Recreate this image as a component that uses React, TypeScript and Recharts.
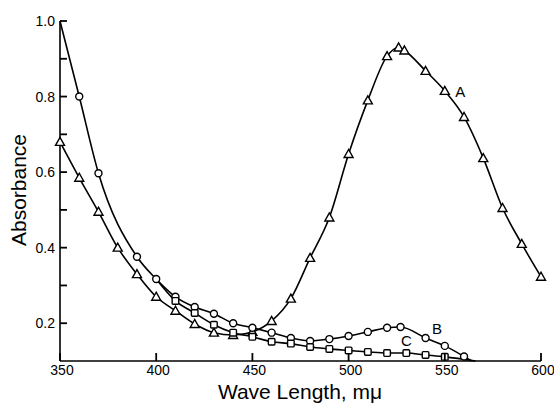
import React from 'react';
import { LineChart, Line, XAxis, YAxis, ReferenceDot, Label } from 'recharts';

// curve A (triangles)
const wlA = [350, 360, 370, 380, 390, 400, 410, 420, 430, 440, 450, 460, 470, 480, 490, 500, 510, 520, 526, 529, 540, 550, 560, 570, 580, 590, 600];
const absA = [0.68, 0.585, 0.495, 0.4, 0.33, 0.27, 0.233, 0.198, 0.175, 0.169, 0.177, 0.206, 0.265, 0.373, 0.48, 0.648, 0.79, 0.907, 0.93, 0.922, 0.868, 0.815, 0.746, 0.637, 0.505, 0.41, 0.323];

// curve B (circles)
const wlB = [350, 360, 370, 390, 400, 410, 420, 430, 440, 450, 460, 470, 480, 490, 500, 510, 520, 527, 540, 550, 560, 564];
const absB = [1.0, 0.8, 0.597, 0.376, 0.317, 0.27, 0.243, 0.225, 0.2, 0.188, 0.175, 0.161, 0.153, 0.158, 0.166, 0.177, 0.188, 0.19, 0.161, 0.14, 0.112, 0.1];
const bareB = [350, 564];

// curve C (squares)
const wlC = [400, 410, 420, 430, 440, 450, 460, 470, 480, 490, 500, 510, 520, 530, 540, 550, 566];
const absC = [0.317, 0.259, 0.227, 0.196, 0.175, 0.164, 0.151, 0.146, 0.137, 0.132, 0.128, 0.124, 0.121, 0.121, 0.116, 0.111, 0.1];
const bareC = [400, 566];

const xTicks = [350, 400, 450, 500, 550, 600];
const yTicks = [0.2, 0.3, 0.4, 0.5, 0.6, 0.7, 0.8, 0.9, 1.0];
const yLabeled = [0.2, 0.4, 0.6, 0.8, 1.0];

const curveLabels = [
  { name: 'A', wl: 558, abs: 0.812 },
  { name: 'B', wl: 546, abs: 0.185 },
  { name: 'C', wl: 530, abs: 0.153 },
];

const build = (wl: number[], ab: number[], bare: number[] = []) =>
  wl.map((w, i) => ({ wl: w, abs: ab[i], bare: bare.includes(w) }));

const dataA = build(wlA, absA);
const dataB = build(wlB, absB, bareB);
const dataC = build(wlC, absC, bareC);

const FONT = '"Liberation Sans", Arial, sans-serif';

const TriDot = (p: any) => {
  const { cx, cy, payload, index } = p;
  if (payload.bare) return <g key={index} />;
  return (
    <polygon key={index} points={`${cx},${cy - 4.5} ${cx - 4.5},${cy + 3.5} ${cx + 4.5},${cy + 3.5}`} fill="#fff" stroke="#000" strokeWidth={1.4} />
  );
};

const CircDot = (p: any) => {
  const { cx, cy, payload, index } = p;
  if (payload.bare) return <g key={index} />;
  return <circle key={index} cx={cx} cy={cy} r={3.5} fill="#fff" stroke="#000" strokeWidth={1.4} />;
};

const SqDot = (p: any) => {
  const { cx, cy, payload, index } = p;
  if (payload.bare) return <g key={index} />;
  return <rect key={index} x={cx - 3.3} y={cy - 3.3} width={6.6} height={6.6} rx={1} fill="#fff" stroke="#000" strokeWidth={1.4} />;
};

// axis ticks point inward, drawn together with the labels
const XTick = (p: any) => {
  const { x, y, payload } = p;
  return (
    <g>
      <path d={`M${x},${y} V${y - 8}`} stroke="#000" strokeWidth={1.8} fill="none" />
      <text x={x + 2} y={y + 14} textAnchor="middle" fontSize={14} fontFamily={FONT} fill="#000">
        {payload.value}
      </text>
    </g>
  );
};

const YTick = (p: any) => {
  const { x, y, payload } = p;
  const v = Math.round(payload.value * 10) / 10;
  const show = yLabeled.some((t) => Math.abs(t - v) < 1e-6);
  return (
    <g>
      <path d={`M${x + 5},${y} H${x + 12}`} stroke="#000" strokeWidth={1.8} fill="none" />
      {show && (
        <text x={x} y={y + 5} textAnchor="end" fontSize={14} fontFamily={FONT} fill="#000">
          {v.toFixed(1)}
        </text>
      )}
    </g>
  );
};

export default function App() {
  return (
    <div style={{ position: 'absolute', left: 0, top: 0, background: '#fff' }}>
      <LineChart width={554} height={407} margin={{ top: 21, right: 13, left: 10, bottom: 0 }}>
        <XAxis
          type="number"
          dataKey="wl"
          domain={[350, 600]}
          ticks={xTicks}
          height={46}
          axisLine={{ stroke: '#000', strokeWidth: 1.6 }}
          tickLine={false}
          tickSize={0}
          tickMargin={0}
          tick={(p: any) => <XTick {...p} />}
        >
          <Label
            content={() => (
              <text x={300} y={399} textAnchor="middle" fontSize={21} fontFamily={FONT} fill="#000">
                Wave Length, mμ
              </text>
            )}
          />
        </XAxis>
        <YAxis
          type="number"
          domain={[0.1, 1.0]}
          ticks={yTicks}
          width={50}
          axisLine={{ stroke: '#000', strokeWidth: 1.6 }}
          tickLine={false}
          tickSize={0}
          tickMargin={5}
          tick={(p: any) => <YTick {...p} />}
        >
          <Label
            content={() => (
              <text x={26} y={190} transform="rotate(-90 26 190)" textAnchor="middle" fontSize={21} fontFamily={FONT} fill="#000">
                Absorbance
              </text>
            )}
          />
        </YAxis>
        <Line data={dataA} dataKey="abs" type="monotone" stroke="#000" strokeWidth={1.6} dot={TriDot} isAnimationActive={false} />
        <Line data={dataB} dataKey="abs" type="monotone" stroke="#000" strokeWidth={1.6} dot={CircDot} isAnimationActive={false} />
        <Line data={dataC} dataKey="abs" type="monotone" stroke="#000" strokeWidth={1.6} dot={SqDot} isAnimationActive={false} />
        {curveLabels.map((l) => (
          <ReferenceDot key={l.name} x={l.wl} y={l.abs} r={0} fill="none" stroke="none">
            <Label
              content={(props: any) => {
                const vb = props.viewBox || {};
                const cx = (vb.x ?? 0) + (vb.width ?? 0) / 2;
                const cy = (vb.y ?? 0) + (vb.height ?? 0) / 2;
                return (
                  <text x={cx} y={cy + 5} textAnchor="middle" fontSize={15} fontFamily={FONT} fill="#000">
                    {l.name}
                  </text>
                );
              }}
            />
          </ReferenceDot>
        ))}
      </LineChart>
    </div>
  );
}
